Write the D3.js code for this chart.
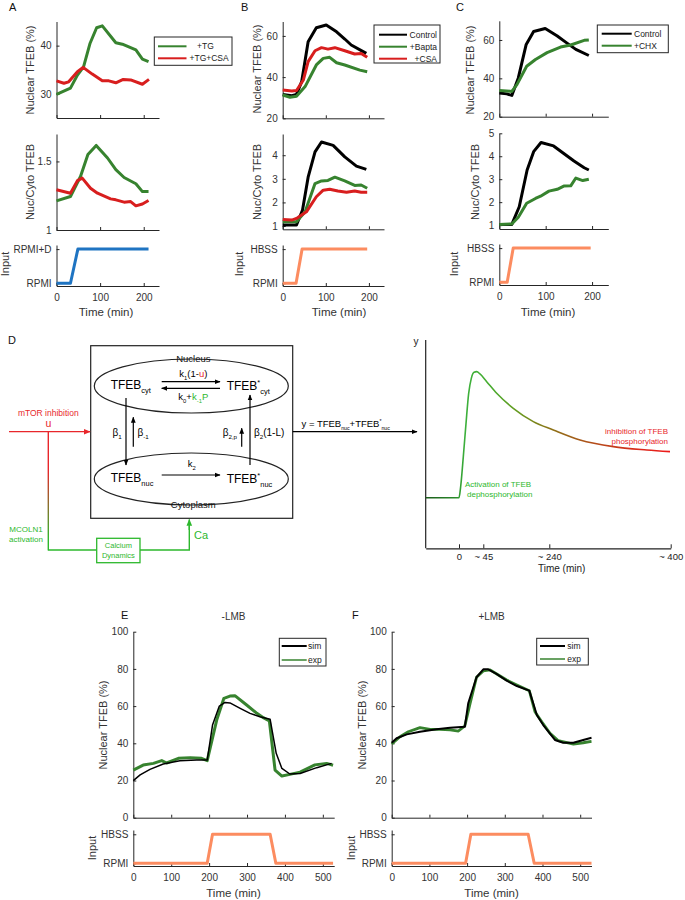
<!DOCTYPE html>
<html><head><meta charset="utf-8">
<script src="https://cdn.jsdelivr.net/npm/d3@7"></script>
<style>
body{margin:0;background:#fff;}
svg{font-family:"Liberation Sans",Arial,Helvetica,sans-serif;}
</style></head><body>
<svg id="fig" width="685" height="900"></svg>
<script>
// ---------------- DATA ----------------
// Panel A (+TG / +TG+CSA)
const A_nuc_TG_t  = [0,32,48,62,77,92,105,136,151,182,197,211];
const A_nuc_TG_v  = [29.9,31.2,33.9,35.6,40.5,43.7,44.1,40.6,40.3,39.1,37.2,36.7];
const A_nuc_CSA_t = [0,17,28,48,61,82,105,120,136,153,170,197,212];
const A_nuc_CSA_v = [32.7,32.2,32.5,34.6,35.5,34.1,32.7,32.7,32.3,33.0,32.9,32.0,33.0];
const A_rat_TG_t  = [0,32,55,72,91,117,136,155,182,197,211];
const A_rat_TG_v  = [1.212,1.244,1.39,1.55,1.617,1.525,1.44,1.383,1.337,1.28,1.28];
const A_rat_CSA_t = [0,32,48,59,78,94,124,136,155,170,182,197,211];
const A_rat_CSA_v = [1.293,1.268,1.36,1.378,1.305,1.268,1.227,1.22,1.203,1.207,1.176,1.19,1.215];
const A_in_t = [0,32,49,211], A_in_v = [0,0,1,1];
// Panel B (Control / +Bapta / +CSA)
const B_nuc_Ctl_t = [0,21,32,44,59,78,101,125,144,159,194];
const B_nuc_Ctl_v = [31.6,31.0,31.6,37.8,57.2,64,65.3,62,58.5,55.6,51.5];
const B_nuc_Bap_t = [0,17,32,52,78,94,109,125,144,179,196];
const B_nuc_Bap_v = [31.3,30.2,30.7,35.4,45.9,49.1,49.6,47,45.9,43.4,42.6];
const B_nuc_CSA_t = [0,21,32,48,59,75,90,105,121,144,167,182,196];
const B_nuc_CSA_v = [33.7,33.3,33.5,38.6,47.5,52.8,54.3,53.6,54.3,52.8,51.2,51.5,49.6];
const B_rat_Ctl_t = [0,32,46,59,75,90,117,144,171,194];
const B_rat_Ctl_v = [1.04,1.04,1.68,3.07,4.14,4.56,4.42,3.93,3.54,3.4];
const B_rat_Bap_t = [0,32,52,75,90,105,121,144,167,182,196];
const B_rat_Bap_v = [1.18,1.18,1.6,2.8,2.91,2.93,3.07,2.91,2.72,2.74,2.6];
const B_rat_CSA_t = [0,21,32,55,78,94,109,128,148,167,182,196];
const B_rat_CSA_v = [1.28,1.25,1.32,1.6,2.24,2.52,2.56,2.48,2.43,2.48,2.43,2.43];
const B_in_t = [0,31,45,196], B_in_v = [0,0,1,1];
// Panel C (Control / +CHX)
const C_nuc_Ctl_t = [0,16,27,41,58,74,99,125,143,165,193];
const C_nuc_Ctl_v = [32.3,31.9,31.1,40.2,57.7,64.4,66,62.1,58.9,55.1,51.9];
const C_nuc_CHX_t = [0,27,38,59,78,103,132,154,183,193];
const C_nuc_CHX_v = [33.7,33.2,36.7,46.3,49.8,53.4,56.3,57.4,59.8,60];
const C_rat_Ctl_t = [0,27,43,60,74,90,117,139,161,183,193];
const C_rat_Ctl_v = [1.03,1.03,1.8,3.4,4.2,4.6,4.45,4.12,3.79,3.5,3.4];
const C_rat_CHX_t = [0,27,41,59,78,89,107,125,139,154,165,180,193];
const C_rat_CHX_v = [1.03,1.05,1.34,1.95,2.16,2.26,2.48,2.56,2.7,2.71,3.05,2.94,3.0];
const C_in_t = [0,17,30,197], C_in_v = [0,0,1,1];
// Panel D schematic response
const D_t = [-60,0,3.1,8,13,17.9,22.8,27.8,32.8,38.9,55,84.6,133.6,192.7,245.3,280.5,324.3,368.4,399.1];
const D_y = [0.243,0.243,0.296,0.44,0.6,0.744,0.816,0.845,0.848,0.837,0.8,0.744,0.672,0.608,0.568,0.52,0.488,0.472,0.464];
const D_ticks = [0,45,240,400];
const D_tickLabels = ["0","~ 45","~ 240","~ 400"];
// Panel E (-LMB)
const E_sim_t = [0,18,44,79,123,167,195,209,227,242,255,282,308,334,361,377,392,413,440,484,523];
const E_sim_v = [19.9,23,26,28.9,30.6,31,31,49.8,60,62,61.7,58.8,56.1,54.3,52.9,34.6,26.5,23.5,23.8,26.9,29.2];
const E_exp_t = [0,26,53,75,88,119,150,180,195,220,239,255,268,299,326,343,359,374,392,413,440,479,510,527];
const E_exp_v = [25.6,28.3,29.2,30.7,29.4,31.9,32.3,31.9,30.7,52.5,64.2,65.4,65.6,60.6,56.1,53.8,52,25.6,22.4,23.3,24.5,28.4,29.2,28.2];
const E_in_t = [0,195,209,361,376,527], E_in_v = [0,0,1,1,0,0];
// Panel F (+LMB)
const F_sim_t = [0,13,40,75,119,155,194,203,225,243,256,278,305,332,365,385,402,433,455,482,508,530];
const F_sim_v = [40.3,42.7,44.8,46.2,47.5,48.4,48.9,61.5,75.5,79.8,79.8,77.3,73.7,70.8,68.3,55.2,49.8,41.8,40.3,40.3,41.8,43];
const F_exp_t = [0,22,44,75,102,128,155,177,194,208,225,243,261,283,305,332,365,380,398,420,442,482,508,530];
const F_exp_v = [39.6,43.5,46.2,48.4,47.5,47.5,47.2,46.6,49.4,61.5,75.5,78.9,79.5,76.7,74,71.4,68.3,57,51.6,45.4,41.4,39.6,40.3,41];
const F_in_t = [0,196,210,362,378,530], F_in_v = [0,0,1,1,0,0];
// tick labels
const inputLabelsA = ["RPMI","RPMI+D"];
const inputLabelsHBSS = ["RPMI","HBSS"];

// ---------------- DRAWING ----------------
const svg = d3.select("#fig");
const FONT = "'Liberation Sans',Arial,Helvetica,sans-serif";
const AX = "#262626", TX = "#333";
const GREEN = "#37832f", RED = "#d81e1e", BLUE = "#1f74c2", ORANGE = "#fc8c60", BLACK = "#000";
const BGREEN = "#2db82d", BRED = "#e8262b";
const fmtG = d3.format("~g");

function axes(x, y, yTicks, yFmt, xTicks, xLab, fs) {
  fs = fs || 10;
  const ya = d3.axisLeft(y).tickValues(yTicks).tickSize(-3).tickSizeOuter(0).tickPadding(5).tickFormat(yFmt || fmtG);
  const gy = svg.append("g").attr("transform", `translate(${x.range()[0]},0)`).call(ya);
  const xa = d3.axisBottom(x).tickValues(xTicks).tickSize(-3).tickSizeOuter(0).tickPadding(8);
  if (!xLab) xa.tickFormat("");
  const gx = svg.append("g").attr("transform", `translate(0,${y.range()[0]})`).call(xa);
  [gx, gy].forEach(a => {
    a.attr("font-family", FONT).attr("font-size", fs);
    a.select(".domain").attr("stroke", AX).attr("stroke-width", 1);
    a.selectAll(".tick line").attr("stroke", AX);
    a.selectAll(".tick text").attr("fill", TX);
  });
}
function series(x, y, t, v, color, w) {
  svg.append("path").datum(d3.zip(t, v))
    .attr("fill", "none").attr("stroke", color).attr("stroke-width", w)
    .attr("stroke-linejoin", "round").attr("stroke-linecap", "butt")
    .attr("d", d3.line().x(d => x(d[0])).y(d => y(d[1])));
}
function vlabel(txt, cx, cy, fs) {
  svg.append("text").attr("transform", `translate(${cx},${cy}) rotate(-90)`)
    .attr("text-anchor", "middle").attr("dy", "0.35em").attr("font-size", fs || 11)
    .attr("fill", TX).text(txt);
}
function text(txt, x, y, fs, anchor, color) {
  return svg.append("text").attr("x", x).attr("y", y).attr("font-size", fs)
    .attr("text-anchor", anchor || "start").attr("fill", color || TX).text(txt);
}
function legend(box, items, lx0, lx1, tx, anchor, fs) {
  svg.append("rect").attr("x", box[0]).attr("y", box[1]).attr("width", box[2] - box[0]).attr("height", box[3] - box[1])
    .attr("fill", "#fff").attr("stroke", AX).attr("stroke-width", 1);
  items.forEach(it => {
    svg.append("line").attr("x1", lx0).attr("x2", lx1).attr("y1", it.y).attr("y2", it.y)
      .attr("stroke", it.c).attr("stroke-width", it.w || 2);
    text(it.label, it.tx || tx, it.y + 3, fs || 8.5, anchor, "#222");
  });
}

// ---- Panel A ----
const xA = d3.scaleLinear().domain([0, 235]).range([56.5, 159]);
const yA1 = d3.scaleLinear().domain([25, 45]).range([118, 21.5]);
const yA2 = d3.scaleLinear().domain([1, 1.7]).range([230, 134]);
const yAin = d3.scaleLinear().domain([-0.08, 1.12]).range([286, 245]);
axes(xA, yA1, [30, 40], null, [0, 100, 200], false);
axes(xA, yA2, [1, 1.5], null, [0, 100, 200], false);
axes(xA, yAin, [0, 1], (d, i) => inputLabelsA[i], [0, 100, 200], true);
series(xA, yA1, A_nuc_TG_t, A_nuc_TG_v, GREEN, 3);
series(xA, yA1, A_nuc_CSA_t, A_nuc_CSA_v, RED, 3);
series(xA, yA2, A_rat_TG_t, A_rat_TG_v, GREEN, 3);
series(xA, yA2, A_rat_CSA_t, A_rat_CSA_v, RED, 3);
series(xA, yAin, A_in_t, A_in_v, BLUE, 3);
vlabel("Nuclear TFEB (%)", 30, 70);
vlabel("Nuc/Cyto TFEB", 30, 182);
vlabel("Input", 5, 264);
text("Time (min)", 106, 316, 11.5, "middle");
legend([154.3, 37, 232, 65.3], [{y: 46.3, c: GREEN, label: "+TG", tx: 197}, {y: 58.3, c: RED, label: "+TG+CSA", tx: 189.5}], 158, 186.5, 190);

// ---- Panel B ----
const xB = d3.scaleLinear().domain([0, 235]).range([282.7, 384]);
const yB1 = d3.scaleLinear().domain([20, 67]).range([118.3, 21.5]);
const yB2 = d3.scaleLinear().domain([0.86, 4.9]).range([229.3, 134]);
const yBin = d3.scaleLinear().domain([-0.08, 1.12]).range([286, 245]);
axes(xB, yB1, [20, 40, 60], null, [0, 100, 200], false);
axes(xB, yB2, [1, 2, 3, 4], null, [0, 100, 200], false);
axes(xB, yBin, [0, 1], (d, i) => inputLabelsHBSS[i], [0, 100, 200], true);
series(xB, yB1, B_nuc_Ctl_t, B_nuc_Ctl_v, BLACK, 3);
series(xB, yB1, B_nuc_Bap_t, B_nuc_Bap_v, GREEN, 3);
series(xB, yB1, B_nuc_CSA_t, B_nuc_CSA_v, RED, 3);
series(xB, yB2, B_rat_Ctl_t, B_rat_Ctl_v, BLACK, 3);
series(xB, yB2, B_rat_Bap_t, B_rat_Bap_v, GREEN, 3);
series(xB, yB2, B_rat_CSA_t, B_rat_CSA_v, RED, 3);
series(xB, yBin, B_in_t, B_in_v, ORANGE, 3);
vlabel("Nuclear TFEB (%)", 257, 69);
vlabel("Nuc/Cyto TFEB", 257, 182);
vlabel("Input", 239, 264);
text("Time (min)", 339, 316, 11.5, "middle");
legend([374, 25, 440, 63], [{y: 34.7, c: BLACK, label: "Control"}, {y: 46.7, c: GREEN, label: "+Bapta"}, {y: 58.7, c: RED, label: "+CSA"}], 379, 407, 437, "end");

// ---- Panel C ----
const xC = d3.scaleLinear().domain([0, 235]).range([499.3, 608.3]);
const yC1 = d3.scaleLinear().domain([20, 70]).range([116.7, 20.8]);
const yC2 = d3.scaleLinear().domain([0.83, 5]).range([229, 133.3]);
const yCin = d3.scaleLinear().domain([-0.08, 1.12]).range([285, 244]);
axes(xC, yC1, [20, 40, 60], null, [0, 100, 200], false);
axes(xC, yC2, [1, 2, 3, 4, 5], null, [0, 100, 200], false);
axes(xC, yCin, [0, 1], (d, i) => inputLabelsHBSS[i], [0, 100, 200], true);
series(xC, yC1, C_nuc_Ctl_t, C_nuc_Ctl_v, BLACK, 3);
series(xC, yC1, C_nuc_CHX_t, C_nuc_CHX_v, GREEN, 3);
series(xC, yC2, C_rat_Ctl_t, C_rat_Ctl_v, BLACK, 3);
series(xC, yC2, C_rat_CHX_t, C_rat_CHX_v, GREEN, 3);
series(xC, yCin, C_in_t, C_in_v, ORANGE, 3);
vlabel("Nuclear TFEB (%)", 470, 70);
vlabel("Nuc/Cyto TFEB", 475, 182);
vlabel("Input", 454, 264);
text("Time (min)", 548, 316, 11.5, "middle");
legend([597.3, 25, 668.3, 52.7], [{y: 33.7, c: BLACK, label: "Control"}, {y: 45.7, c: GREEN, label: "+CHX"}], 601.7, 631.7, 634);

// Panel letters
text("A", 9, 11, 11, "start", "#111");
text("B", 241, 11, 11, "start", "#111");
text("C", 456, 11, 11, "start", "#111");
text("D", 8, 344, 11, "start", "#111");
text("E", 121, 619, 11, "start", "#111");
text("F", 352, 619, 11, "start", "#111");

// ---- Panel D diagram ----
const defs = svg.append("defs");
function marker(id, color, size) {
  defs.append("marker").attr("id", id).attr("viewBox", "0 0 10 10").attr("refX", 9).attr("refY", 5)
    .attr("markerWidth", size).attr("markerHeight", size).attr("orient", "auto-start-reverse")
    .attr("markerUnits", "userSpaceOnUse")
    .append("path").attr("d", "M0,1 L10,5 L0,9 z").attr("fill", color);
}
marker("arrK", "#000", 6);
marker("arrR", BRED, 7);
marker("arrG", BGREEN, 7);
function arrow(x1, y1, x2, y2, m, color, w) {
  svg.append("line").attr("x1", x1).attr("y1", y1).attr("x2", x2).attr("y2", y2)
    .attr("stroke", color || "#000").attr("stroke-width", w || 1.2).attr("marker-end", `url(#${m || "arrK"})`);
}
function rich(x, y, parts, fs, anchor, color) {
  const t = svg.append("text").attr("x", x).attr("y", y).attr("font-size", fs)
    .attr("text-anchor", anchor || "start").attr("fill", color || "#000");
  let cur = 0;
  parts.forEach(p => {
    const shift = p.sub ? fs * 0.35 : p.sup ? -fs * 0.4 : 0;
    const s = t.append("tspan").text(p.t).attr("dy", shift - cur);
    if (p.sub || p.sup) s.attr("font-size", fs * (p.scale || 0.62));
    if (p.color) s.attr("fill", p.color);
    if (p.dx) s.attr("dx", p.dx);
    cur = shift;
  });
  return t;
}
svg.append("rect").attr("x", 90.7).attr("y", 345.7).attr("width", 202).attr("height", 172.6)
  .attr("fill", "none").attr("stroke", "#222").attr("stroke-width", 1.2);
svg.append("ellipse").attr("cx", 191.3).attr("cy", 386).attr("rx", 97).attr("ry", 27)
  .attr("fill", "none").attr("stroke", "#222").attr("stroke-width", 1.2);
svg.append("ellipse").attr("cx", 191.3).attr("cy", 479).attr("rx", 97).attr("ry", 26)
  .attr("fill", "none").attr("stroke", "#222").attr("stroke-width", 1.2);
text("Nucleus", 193.3, 361.5, 9.5, "middle", "#111");
text("Cytoplasm", 193.3, 508, 9.5, "middle", "#111");
rich(110.7, 389, [{t: "TFEB"}, {t: "cyt", sub: true}], 12);
rich(226.7, 390, [{t: "TFEB"}, {t: "*", sup: true}, {t: "cyt", sub: true}], 12);
rich(110.7, 481.5, [{t: "TFEB"}, {t: "nuc", sub: true}], 12);
rich(226.7, 483, [{t: "TFEB"}, {t: "*", sup: true}, {t: "nuc", sub: true}], 12);
arrow(161.7, 381.7, 220, 381.7);
arrow(220, 388.3, 161.7, 388.3);
rich(193.3, 376.5, [{t: "k"}, {t: "1", sub: true}, {t: "(1-"}, {t: "u", color: BRED}, {t: ")"}], 9.5, "middle");
rich(193.3, 399.5, [{t: "k"}, {t: "0", sub: true}, {t: "+"}, {t: "k", color: BGREEN}, {t: "-1", sub: true, color: BGREEN}, {t: "P", color: BGREEN}], 9.5, "middle");
arrow(126, 398, 126, 465);
arrow(133.3, 446.7, 133.3, 417.3);
arrow(241.7, 446.7, 241.7, 428.3);
arrow(250, 465, 250, 395);
rich(117, 435.5, [{t: "β"}, {t: "1", sub: true}], 10, "middle");
rich(137.5, 435.5, [{t: "β"}, {t: "-1", sub: true}], 10);
rich(237, 435.5, [{t: "β"}, {t: "2,p", sub: true}], 10, "end");
rich(254, 435.5, [{t: "β"}, {t: "2", sub: true}, {t: "(1-L)"}], 10);
rich(191.7, 467, [{t: "k"}, {t: "2", sub: true}], 9.5, "middle");
arrow(161.7, 475, 220, 475);

// mTOR / calcium input lines
const gradV = defs.append("linearGradient").attr("id", "gradV").attr("gradientUnits", "userSpaceOnUse")
  .attr("x1", 0).attr("y1", 470).attr("x2", 0).attr("y2", 540);
gradV.append("stop").attr("offset", 0).attr("stop-color", BRED);
gradV.append("stop").attr("offset", 1).attr("stop-color", BGREEN);
arrow(9, 431.7, 90, 431.7, "arrR", BRED, 1.3);
svg.append("line").attr("x1", 48.3).attr("y1", 431.7).attr("x2", 48.3).attr("y2", 550.6)
  .attr("stroke", "url(#gradV)").attr("stroke-width", 1.4);
text("mTOR inhibition", 48.3, 416, 8.5, "middle", BRED);
text("u", 48.3, 427, 10.5, "middle", BRED);
text("MCOLN1", 26, 532, 8, "middle", BGREEN);
text("activation", 26, 542, 8, "middle", BGREEN);
svg.append("line").attr("x1", 48.3).attr("y1", 550).attr("x2", 96.7).attr("y2", 550).attr("stroke", BGREEN).attr("stroke-width", 1.4);
svg.append("rect").attr("x", 96.7).attr("y", 538.3).attr("width", 43.3).attr("height", 24.4)
  .attr("fill", "none").attr("stroke", BGREEN).attr("stroke-width", 1.3);
text("Calcium", 118.4, 548, 7.5, "middle", BGREEN);
text("Dynamics", 118.4, 558, 7.5, "middle", BGREEN);
svg.append("polyline").attr("points", "140,550 189.3,550 189.3,526").attr("fill", "none").attr("stroke", BGREEN).attr("stroke-width", 1.4);
arrow(189.3, 530, 189.3, 519.5, "arrG", BGREEN, 1.4);
text("Ca", 194, 539, 11, "start", BGREEN);

// output arrow
arrow(292.7, 431.7, 417, 431.7, "arrK", "#000", 1.3);
rich(301.5, 426.5, [{t: "y = TFEB"}, {t: "nuc", sub: true, scale: 0.55}, {t: "+TFEB"}, {t: "*", sup: true, scale: 0.55}, {t: "nuc", sub: true, scale: 0.55}], 9.5);

// D schematic plot
const xD = d3.scaleLinear().domain([-60, 0, 45, 240, 400]).range([425.7, 459, 483.3, 549.3, 670.7]);
const yD = d3.scaleLinear().domain([0, 1]).range([548.3, 340]);
const gD = svg.append("g").attr("transform", "translate(0,548.3)")
  .call(d3.axisBottom(xD).tickValues(D_ticks).tickFormat((d, i) => D_tickLabels[i]).tickSize(-4).tickSizeOuter(0).tickPadding(5));
gD.attr("font-family", FONT).attr("font-size", 9.5);
gD.select(".domain").attr("stroke", "#222").attr("stroke-width", 1.2);
gD.selectAll(".tick line").attr("stroke", "#222");
gD.selectAll(".tick text").attr("fill", "#222");
svg.append("line").attr("x1", 425.7).attr("x2", 425.7).attr("y1", 340).attr("y2", 548.3).attr("stroke", "#222").attr("stroke-width", 1.2);
text("y", 416, 345, 10, "middle", "#222");
text("Time (min)", 561.7, 572, 10, "middle", "#222");
const gradD = defs.append("linearGradient").attr("id", "gradD").attr("gradientUnits", "userSpaceOnUse")
  .attr("x1", 425.7).attr("y1", 0).attr("x2", 670).attr("y2", 0);
[[0, "#1c5c1c"], [0.12, "#2a8a2a"], [0.16, "#3cb03c"], [0.26, "#46ac30"], [0.38, "#689a20"], [0.5, "#8a7618"], [0.7, "#b64a1a"], [0.86, "#d82c1c"], [1, "#ee1a1a"]]
  .forEach(s => gradD.append("stop").attr("offset", s[0]).attr("stop-color", s[1]));
svg.append("path").datum(d3.zip(D_t, D_y)).attr("fill", "none").attr("stroke", "url(#gradD)").attr("stroke-width", 1.6)
  .attr("d", d3.line().x(d => xD(d[0])).y(d => yD(d[1])).curve(d3.curveMonotoneX));
text("Activation of TFEB", 465, 487, 8, "start", BGREEN);
text("dephosphorylation", 467, 497, 8, "start", BGREEN);
text("inhibition of TFEB", 668, 433.5, 8, "end", BRED);
text("phosphorylation", 668, 443.5, 8, "end", BRED);

// ---- Panel E ----
const xE = d3.scaleLinear().domain([0, 530]).range([133.3, 334.2]);
const yE = d3.scaleLinear().domain([0, 100]).range([817.7, 631.7]);
const yEin = d3.scaleLinear().domain([-0.093, 1.148]).range([866, 830]);
const eTicks = [0, 100, 200, 300, 400, 500];
axes(xE, yE, [0, 20, 40, 60, 80, 100], null, eTicks, false);
axes(xE, yEin, [0, 1], (d, i) => inputLabelsHBSS[i], eTicks, true);
series(xE, yE, E_exp_t, E_exp_v, GREEN, 3);
series(xE, yE, E_sim_t, E_sim_v, BLACK, 1.5);
series(xE, yEin, E_in_t, E_in_v, ORANGE, 3);
vlabel("Nuclear TFEB (%)", 103.6, 725);
vlabel("Input", 92.6, 848);
text("Time (min)", 233.5, 897, 11.5, "middle");
text("-LMB", 233.5, 619.5, 10, "middle");
legend([279.3, 638.3, 326, 666], [{y: 646, c: BLACK, label: "sim", w: 2}, {y: 660, c: GREEN, label: "exp", w: 1.5}], 281.7, 306.7, 308);

// ---- Panel F ----
const xF = d3.scaleLinear().domain([0, 530]).range([391.7, 591.5]);
const yF = d3.scaleLinear().domain([0, 100]).range([817.7, 631.7]);
const yFin = d3.scaleLinear().domain([-0.093, 1.148]).range([866, 830]);
axes(xF, yF, [0, 20, 40, 60, 80, 100], null, eTicks, false);
axes(xF, yFin, [0, 1], (d, i) => inputLabelsHBSS[i], eTicks, true);
series(xF, yF, F_exp_t, F_exp_v, GREEN, 2.8);
series(xF, yF, F_sim_t, F_sim_v, BLACK, 2);
series(xF, yFin, F_in_t, F_in_v, ORANGE, 3);
vlabel("Nuclear TFEB (%)", 362, 725);
vlabel("Input", 351, 848);
text("Time (min)", 491.6, 897, 11.5, "middle");
text("+LMB", 491.6, 619.5, 10, "middle");
legend([536.7, 638.3, 588.3, 665], [{y: 646, c: BLACK, label: "sim", w: 2}, {y: 659, c: GREEN, label: "exp", w: 1.5}], 540, 565, 567.3);
</script></body></html>
